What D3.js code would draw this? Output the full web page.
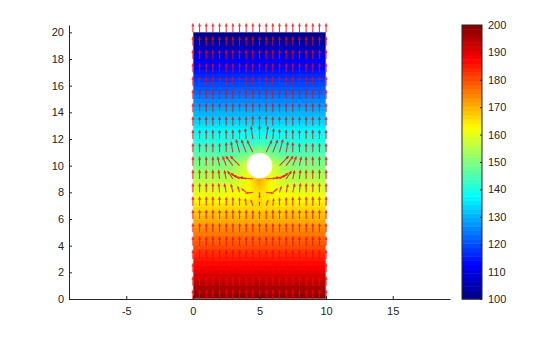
<!DOCTYPE html>
<html>
<head>
<meta charset="utf-8">
<script src="https://cdn.jsdelivr.net/npm/d3@7"></script>
<style>
  body { margin: 0; background: #fff; }
  svg text { font-family: "Liberation Sans", Arial, sans-serif; font-size: 11px; fill: #262626; }
</style>
</head>
<body>
<div id="chart"></div>
<script>
// tick labels
const xTicks = [-5, 0, 5, 10, 15];
const yTicks = [0, 2, 4, 6, 8, 10, 12, 14, 16, 18, 20];
const cbTicks = [100, 110, 120, 130, 140, 150, 160, 170, 180, 190, 200];

// temperature samples, nodes at x = 0..10, y = 0..20 (one row per y)
const gridX = [0, 1, 2, 3, 4, 5, 6, 7, 8, 9, 10];
const gridY = d3.range(0, 21);
const tempRows = [
  [200, 200, 200, 200, 200, 200, 200, 200, 200, 200, 200],
  [195, 195, 195, 195, 195, 195, 195, 195, 195, 195, 195],
  [190, 190, 190, 190, 190, 190, 190, 190, 190, 190, 190],
  [185, 185, 185, 185, 185, 185, 185, 185, 185, 185, 185],
  [180, 180, 180, 180, 180, 180, 180, 180, 180, 180, 180],
  [175, 175, 175, 175, 175, 175, 175, 175, 175, 175, 175],
  [170, 170, 170, 170, 170, 170, 170, 170, 170, 170, 170],
  [165, 165, 165, 165, 165, 166, 165, 165, 165, 165, 165],
  [160, 160, 160, 161, 162, 166, 162, 161, 160, 160, 160],
  [155, 155, 155, 156, 161, 172, 161, 156, 155, 155, 155],
  [150, 150, 150, 152, 158, 165, 158, 152, 150, 150, 150],
  [145, 145, 145, 145, 147, 152, 147, 145, 145, 145, 145],
  [140, 140, 140, 140, 140, 141, 140, 140, 140, 140, 140],
  [135, 135, 135, 135, 135, 135, 135, 135, 135, 135, 135],
  [130, 130, 130, 130, 130, 130, 130, 130, 130, 130, 130],
  [125, 125, 125, 125, 125, 125, 125, 125, 125, 125, 125],
  [120, 120, 120, 120, 120, 120, 120, 120, 120, 120, 120],
  [115, 115, 115, 115, 115, 115, 115, 115, 115, 115, 115],
  [110, 110, 110, 110, 110, 110, 110, 110, 110, 110, 110],
  [105, 105, 105, 105, 105, 105, 105, 105, 105, 105, 105],
  [100, 100, 100, 100, 100, 100, 100, 100, 100, 100, 100]
];

// hole in the plate
const holeX = 5, holeY = 10, holeR = 0.96;

// quiver sample points
const quiverX = d3.range(0, 10.01, 0.5);
const quiverY = d3.range(0, 21);

const width = 560, height = 337;

const svg = d3.select("#chart").append("svg")
  .attr("width", width)
  .attr("height", height);

const x = d3.scaleLinear().domain([-9.3, 19.3]).range([69, 450]);
const y = d3.scaleLinear().domain([0, 20.55]).range([299, 25]);

// jet colormap, 64 levels
const jet = d3.scaleLinear()
  .domain([0, 0.125, 0.375, 0.625, 0.875, 1])
  .range(["#000080", "#0000ff", "#00ffff", "#ffff00", "#ff0000", "#800000"]);
const nLevels = 64;
function colorOf(t) {
  let k = Math.floor((t - 100) / 100 * nLevels);
  k = Math.max(0, Math.min(nLevels - 1, k));
  return jet((k + 0.5) / nLevels);
}

// bilinear lookup in the sampled grid
function temp(px, py) {
  const i = Math.max(0, Math.min(gridX.length - 2, Math.floor(px - gridX[0])));
  const j = Math.max(0, Math.min(gridY.length - 2, Math.floor(py - gridY[0])));
  const fx = px - gridX[i], fy = py - gridY[j];
  const a = tempRows[j][i], b = tempRows[j][i + 1];
  const c = tempRows[j + 1][i], d = tempRows[j + 1][i + 1];
  return (a * (1 - fx) + b * fx) * (1 - fy) + (c * (1 - fx) + d * fx) * fy;
}

// field as an image
const x0 = Math.round(x(0)), x1 = Math.round(x(10));
const y0 = Math.round(y(20)), y1 = Math.round(y(0));
const cw = x1 - x0, ch = y1 - y0;
const canvas = document.createElement("canvas");
canvas.width = cw; canvas.height = ch;
const ctx = canvas.getContext("2d");
const img = ctx.createImageData(cw, ch);
for (let r = 0; r < ch; r++) {
  for (let c = 0; c < cw; c++) {
    const dx = x.invert(x0 + c + 0.5), dy = y.invert(y0 + r + 0.5);
    const col = d3.rgb(colorOf(temp(dx, dy)));
    const k = (r * cw + c) * 4;
    img.data[k] = col.r; img.data[k + 1] = col.g; img.data[k + 2] = col.b; img.data[k + 3] = 255;
  }
}
ctx.putImageData(img, 0, 0);

svg.append("image")
  .attr("x", x0).attr("y", y0)
  .attr("width", cw).attr("height", ch)
  .attr("preserveAspectRatio", "none")
  .attr("href", canvas.toDataURL());

svg.append("rect")
  .attr("x", x0).attr("y", y0)
  .attr("width", cw).attr("height", ch)
  .attr("fill", "none")
  .attr("stroke", "#e4e4f0")
  .attr("stroke-opacity", 0.7);

// hole
svg.append("circle")
  .attr("cx", x(holeX)).attr("cy", y(holeY))
  .attr("r", x(holeR) - x(0))
  .attr("fill", "#fff");

// flux arrows (-grad T)
const h = 0.25, scale = 0.62 / 5;
const arrows = [];
quiverY.forEach(qy => {
  quiverX.forEach(qx => {
    if (Math.hypot(qx - holeX, qy - holeY) < holeR * 1.05) return;
    const xa = Math.max(0, qx - h), xb = Math.min(10, qx + h);
    const ya = Math.max(0, qy - h), yb = Math.min(20, qy + h);
    const u = -(temp(xb, qy) - temp(xa, qy)) / (xb - xa);
    const v = -(temp(qx, yb) - temp(qx, ya)) / (yb - ya);
    let L = Math.hypot(u, v) * scale;
    if (L > 0.95) L = 0.95;
    const ang = Math.atan2(v, u);
    arrows.push({ qx, qy, ex: qx + L * Math.cos(ang), ey: qy + L * Math.sin(ang) });
  });
});

const ag = svg.append("g")
  .attr("stroke", "#ff0000")
  .attr("stroke-width", 1.1)
  .attr("stroke-opacity", 0.8)
  .attr("fill", "none");

ag.selectAll("path")
  .data(arrows)
  .join("path")
  .attr("d", d => {
    const sx = x(d.qx), sy = y(d.qy), ex = x(d.ex), ey = y(d.ey);
    const a = Math.atan2(ey - sy, ex - sx);
    const len = Math.hypot(ex - sx, ey - sy);
    const hl = Math.min(2.5, len * 0.3), ha = 0.4;
    const h1x = ex - hl * Math.cos(a - ha), h1y = ey - hl * Math.sin(a - ha);
    const h2x = ex - hl * Math.cos(a + ha), h2y = ey - hl * Math.sin(a + ha);
    return `M${sx},${sy}L${ex},${ey}M${h1x},${h1y}L${ex},${ey}L${h2x},${h2y}`;
  });

// axes
const gx = svg.append("g")
  .attr("transform", `translate(0,${y(0)})`)
  .call(d3.axisBottom(x).tickValues(xTicks).tickFormat(d => String(d))
    .tickSizeInner(-3).tickSizeOuter(0).tickPadding(8));
const gy = svg.append("g")
  .attr("transform", `translate(${x.range()[0]},0)`)
  .call(d3.axisLeft(y).tickValues(yTicks).tickFormat(d => String(d))
    .tickSizeInner(-3).tickSizeOuter(0).tickPadding(5));
[gx, gy].forEach(g => {
  g.select(".domain").attr("stroke", "#262626");
  g.selectAll(".tick line").attr("stroke", "#262626");
  g.selectAll("text").attr("font-size", null).attr("font-family", null).attr("fill", "#262626");
});

// colorbar
const cbX = 462, cbW = 20;
const cy = d3.scaleLinear().domain([100, 200]).range([299, 25]);
const levels = d3.range(nLevels);
svg.append("g").selectAll("rect")
  .data(levels)
  .join("rect")
  .attr("x", cbX)
  .attr("width", cbW)
  .attr("y", k => cy(100 + (k + 1) * 100 / nLevels))
  .attr("height", k => cy(100 + k * 100 / nLevels) - cy(100 + (k + 1) * 100 / nLevels) + 0.5)
  .attr("fill", k => jet((k + 0.5) / nLevels));

svg.append("rect")
  .attr("x", cbX).attr("y", cy(200))
  .attr("width", cbW).attr("height", cy(100) - cy(200))
  .attr("fill", "none").attr("stroke", "#262626");

const gc = svg.append("g")
  .attr("transform", `translate(${cbX + cbW},0)`)
  .call(d3.axisRight(cy).tickValues(cbTicks).tickFormat(d => String(d))
    .tickSizeInner(-2).tickSizeOuter(0).tickPadding(6));
gc.select(".domain").remove();
gc.selectAll(".tick line").attr("stroke", "#262626");
gc.selectAll("text").attr("font-size", null).attr("font-family", null).attr("fill", "#262626");
</script>
</body>
</html>
